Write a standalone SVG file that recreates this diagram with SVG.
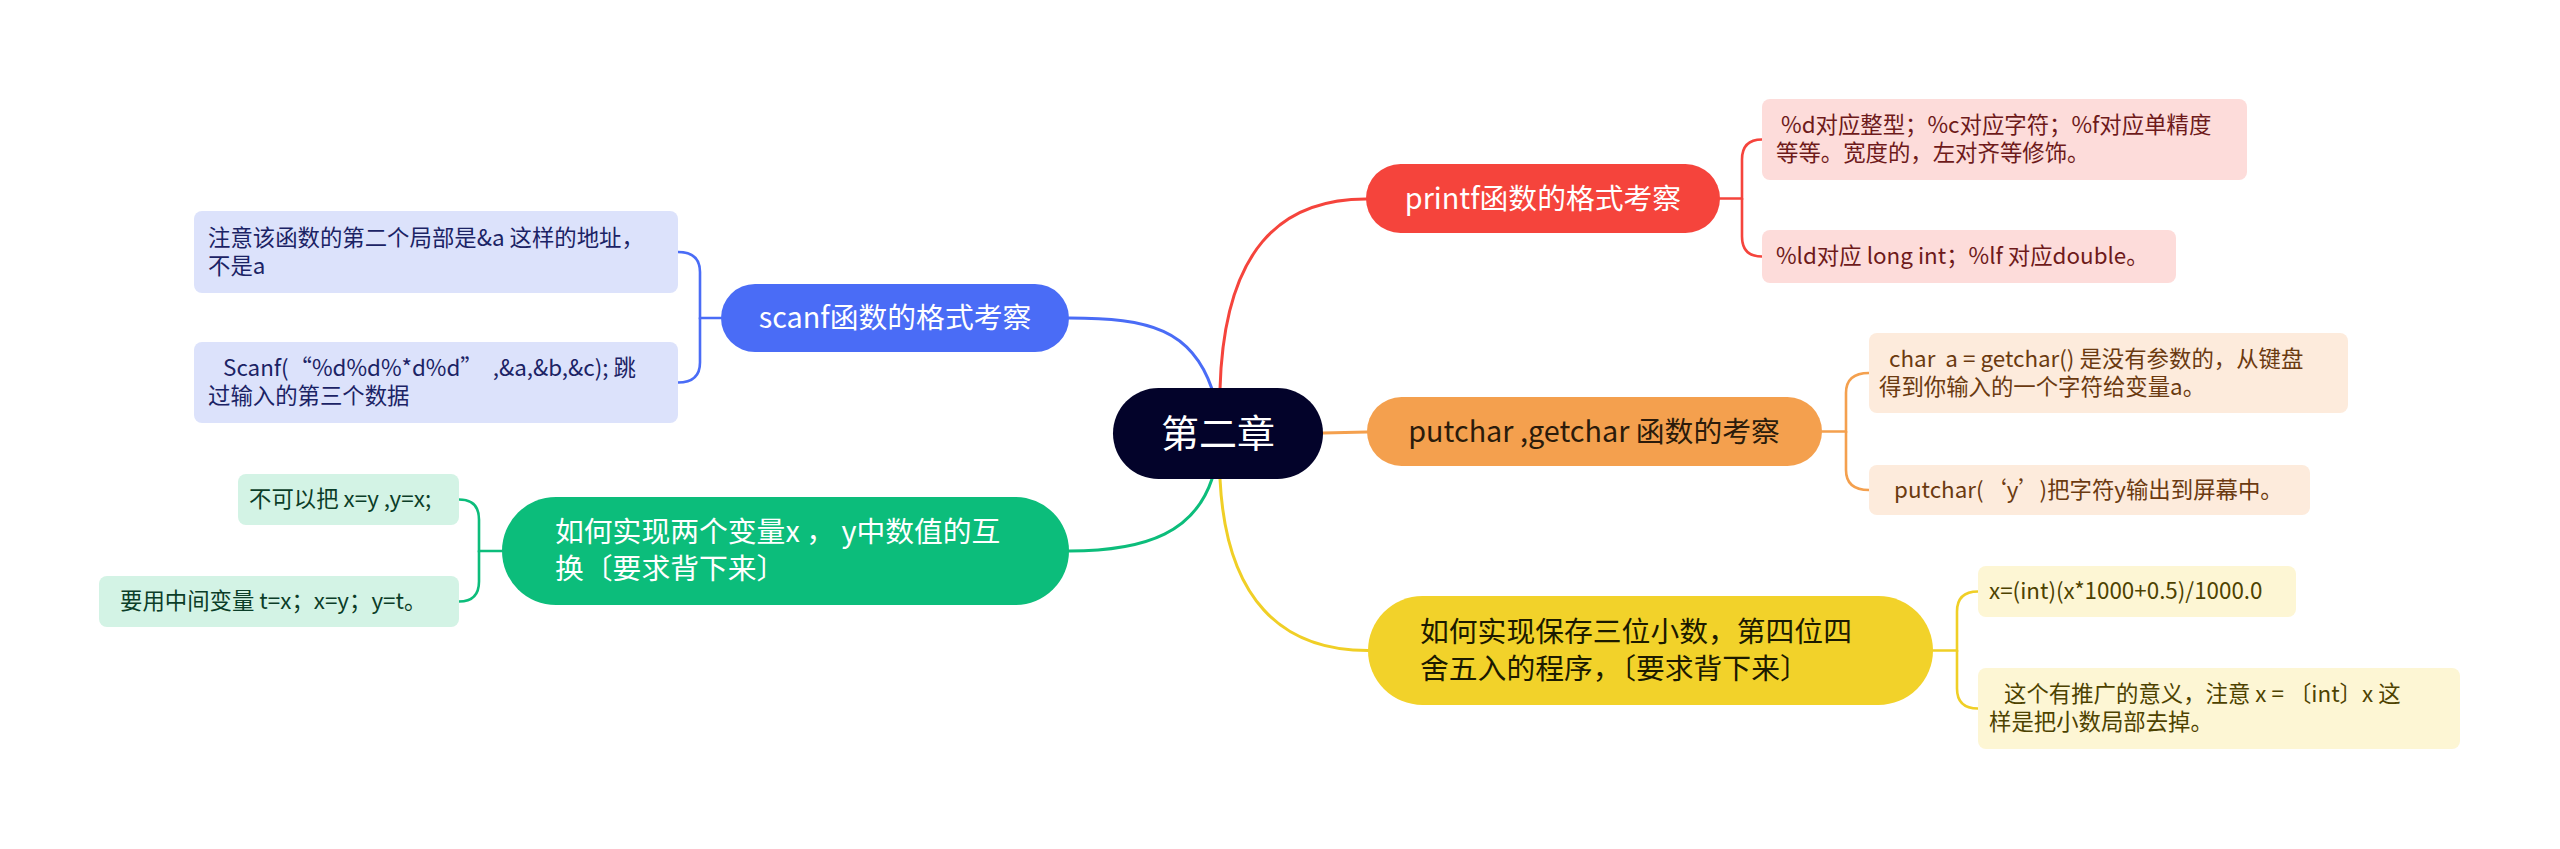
<svg xmlns="http://www.w3.org/2000/svg" width="2560" height="849" viewBox="0 0 2560 849" xml:lang="zh-CN" lang="zh-CN">
<style>
text{font-family:"Noto Sans CJK SC","Noto Sans",sans-serif;white-space:pre}
.main{font-size:28.8px}
.sub{font-size:22.4px}
.c{fill:none;stroke-width:3;stroke-linecap:round}
.b{fill:none;stroke-width:2.6;stroke-linecap:round}
.red{stroke:#f5443c}.org{stroke:#f4a04e}.yel{stroke:#f0cf26}.blu{stroke:#4a6cf6}.grn{stroke:#0cbd7b}
</style>
<rect width="2560" height="849" fill="#ffffff"/>
<g id="connectors">
<path class="c red" d="M1220 389 C1224 250 1280 199 1366 199"/>
<path class="c blu" d="M1212 389 C1192 330 1150 318 1069 318"/>
<path class="c org" d="M1323 433 L1367 432"/>
<path class="c yel" d="M1220 479 C1226 600 1282 650.5 1368 650.5"/>
<path class="c grn" d="M1212 479 C1195 530 1150 551 1069 551"/>
<path class="b red" d="M1720 198.5 H1742 V159.5 Q1742 139.5 1762 139.5"/>
<path class="b red" d="M1742 198.5 V236.5 Q1742 256.5 1762 256.5"/>
<path class="b org" d="M1822 431.5 H1846 V393 Q1846 373 1869 373"/>
<path class="b org" d="M1846 431.5 V470 Q1846 490 1869 490"/>
<path class="b yel" d="M1933 650.5 H1957 V611.5 Q1957 591.5 1978 591.5"/>
<path class="b yel" d="M1957 650.5 V688.5 Q1957 708.5 1978 708.5"/>
<path class="b blu" d="M721 318 H700 V272 Q700 252 678 252"/>
<path class="b blu" d="M700 318 V362.5 Q700 382.5 678 382.5"/>
<path class="b grn" d="M502 551 H479 V519.5 Q479 499.5 459 499.5"/>
<path class="b grn" d="M479 551 V581.5 Q479 601.5 459 601.5"/>
</g>
<g id="center">
<rect x="1113" y="388" width="210" height="91" rx="45.5" fill="#03032a"/>
<text x="1218" y="447" font-size="38" fill="#ffffff" text-anchor="middle">第二章</text>
</g>
<g id="printf">
<rect x="1366" y="164" width="354" height="69" rx="34.5" fill="#f5443c"/>
<text class="main" x="1543" y="209" fill="#ffffff" text-anchor="middle">printf函数的格式考察</text>
</g>
<g id="printf-1">
<rect x="1762" y="99" width="485" height="81" rx="8" fill="#fddcda"/>
<text class="sub" fill="#6e1a1a"><tspan x="1776" y="133"> %d对应整型；%c对应字符；%f对应单精度</tspan><tspan x="1776" y="161">等等。宽度的，左对齐等修饰。</tspan></text>
</g>
<g id="printf-2">
<rect x="1762" y="230" width="414" height="53" rx="8" fill="#fddcda"/>
<text class="sub" x="1776" y="264" fill="#6e1a1a">%ld对应 long int；%lf 对应double。</text>
</g>
<g id="putchar">
<rect x="1367" y="397" width="455" height="69" rx="34.5" fill="#f4a04e"/>
<text class="main" x="1594" y="442" fill="#2b1b0b" text-anchor="middle">putchar ,getchar 函数的考察</text>
</g>
<g id="putchar-1">
<rect x="1869" y="333" width="479" height="80" rx="8" fill="#fdebdc"/>
<text class="sub" fill="#6b3a10"><tspan x="1879" y="367">  char  a = getchar() 是没有参数的，从键盘</tspan><tspan x="1879" y="395">得到你输入的一个字符给变量a。</tspan></text>
</g>
<g id="putchar-2">
<rect x="1869" y="465" width="441" height="50" rx="8" fill="#fdebdc"/>
<text class="sub" x="1879" y="498" fill="#6b3a10">   putchar(<tspan dx="12">‘</tspan>y’<tspan dx="10">)</tspan>把字符y输出到屏幕中。</text>
</g>
<g id="round">
<rect x="1368" y="596" width="565" height="109" rx="54.5" fill="#f2d22a"/>
<text class="main" fill="#1c1a00"><tspan x="1420" y="642">如何实现保存三位小数，第四位四</tspan><tspan x="1420" y="679">舍五入的程序，〔要求背下来〕</tspan></text>
</g>
<g id="round-1">
<rect x="1978" y="566" width="318" height="51" rx="8" fill="#fdf6d4"/>
<text class="sub" x="1989" y="599" fill="#4d4200">x=(int)(x*1000+0.5)/1000.0</text>
</g>
<g id="round-2">
<rect x="1978" y="668" width="482" height="81" rx="8" fill="#fdf6d4"/>
<text class="sub" fill="#4d4200"><tspan x="1989" y="702">   这个有推广的意义，注意 x = 〔int〕x 这</tspan><tspan x="1989" y="730">样是把小数局部去掉。</tspan></text>
</g>
<g id="scanf">
<rect x="721" y="284" width="348" height="68" rx="34" fill="#4a6cf6"/>
<text class="main" x="895" y="328" fill="#ffffff" text-anchor="middle">scanf函数的格式考察</text>
</g>
<g id="scanf-1">
<rect x="194" y="211" width="484" height="82" rx="8" fill="#dce2fb"/>
<text class="sub" fill="#1b2365"><tspan x="208" y="246">注意该函数的第二个局部是&amp;a 这样的地址，</tspan><tspan x="208" y="274">不是a</tspan></text>
</g>
<g id="scanf-2">
<rect x="194" y="342" width="484" height="81" rx="8" fill="#dce2fb"/>
<text class="sub" fill="#1b2365"><tspan x="208" y="376">   Scanf(<tspan dx="12">“</tspan>%d%d%*d%d”<tspan dx="10">,&amp;a,&amp;b,&amp;c); 跳</tspan></tspan><tspan x="208" y="404">过输入的第三个数据</tspan></text>
</g>
<g id="swap">
<rect x="502" y="497" width="567" height="108" rx="54" fill="#0cbd7b"/>
<text class="main" fill="#ffffff"><tspan x="555" y="542">如何实现两个变量x ， y中数值的互</tspan><tspan x="555" y="579">换〔要求背下来〕</tspan></text>
</g>
<g id="swap-1">
<rect x="238" y="474" width="221" height="51" rx="8" fill="#d3f3e5"/>
<text class="sub" x="249" y="507" fill="#0b3d28">不可以把 x=y ,y=x;</text>
</g>
<g id="swap-2">
<rect x="99" y="576" width="360" height="51" rx="8" fill="#d3f3e5"/>
<text class="sub" x="120" y="609" fill="#0b3d28">要用中间变量 t=x；x=y；y=t。</text>
</g>
</svg>
